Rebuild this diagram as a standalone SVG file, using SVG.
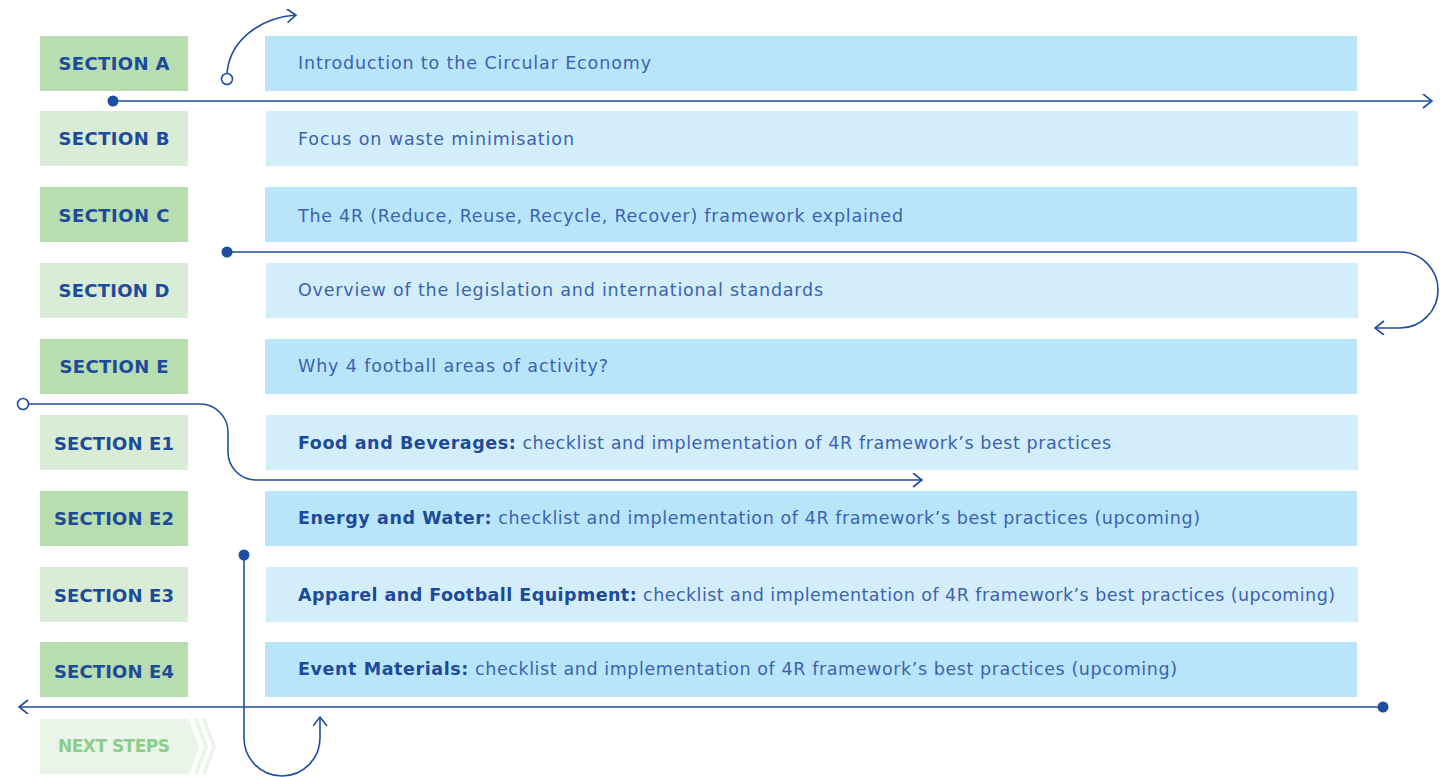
<svg xmlns="http://www.w3.org/2000/svg" width="1445" height="777" viewBox="0 0 1445 777">
<style>
.lg{fill:#b8ddb0}.ll{fill:#d9ecd6}.bd{fill:#b9e5fa}.bl{fill:#d3eefa}
.sl{font-family:"DejaVu Sans",sans-serif;font-weight:bold;font-size:18px;fill:#1d4a9b;text-anchor:middle}
.tx{font-family:"DejaVu Sans",sans-serif;font-size:17.5px;fill:#3b63b1}
.b{font-weight:bold;fill:#1d4a9b}
.cn{fill:none;stroke:#1f4e9e;stroke-width:1.6}
.dot{fill:#1f4e9e}
.od{fill:#fff;stroke:#1f4e9e;stroke-width:1.6}
</style>
<defs>
<marker id="ah" markerUnits="userSpaceOnUse" markerWidth="20" markerHeight="20" refX="10" refY="7" orient="auto" viewBox="0 0 20 20">
<path d="M1,0 L10,7 L1,14" fill="none" stroke="#1f4e9e" stroke-width="1.6"/>
</marker>
</defs>
<rect width="1445" height="777" fill="#fff"/>
<g id="secA"><rect class="lg" x="40" y="36" width="148" height="55"/><rect class="bd" x="265" y="36" width="1092" height="55"/>
<text class="sl" x="114" y="70" textLength="111">SECTION A</text>
<text class="tx" x="298" y="69" textLength="353">Introduction to the Circular Economy</text></g>
<g id="secB"><rect class="ll" x="40" y="111" width="148" height="55"/><rect class="bl" x="266" y="111" width="1092" height="55"/>
<text class="sl" x="114" y="145" textLength="111">SECTION B</text>
<text class="tx" x="298" y="145" textLength="276">Focus on waste minimisation</text></g>
<g id="secC"><rect class="lg" x="40" y="187" width="148" height="55"/><rect class="bd" x="265" y="187" width="1092" height="55"/>
<text class="sl" x="114" y="222" textLength="111">SECTION C</text>
<text class="tx" x="298" y="222" textLength="605">The 4R (Reduce, Reuse, Recycle, Recover) framework explained</text></g>
<g id="secD"><rect class="ll" x="40" y="263" width="148" height="55"/><rect class="bl" x="266" y="263" width="1092" height="55"/>
<text class="sl" x="114" y="297" textLength="111">SECTION D</text>
<text class="tx" x="298" y="296" textLength="525">Overview of the legislation and international standards</text></g>
<g id="secE"><rect class="lg" x="40" y="339" width="148" height="55"/><rect class="bd" x="265" y="339" width="1092" height="55"/>
<text class="sl" x="114" y="373" textLength="109">SECTION E</text>
<text class="tx" x="298" y="372" textLength="310">Why 4 football areas of activity?</text></g>
<g id="secE1"><rect class="ll" x="40" y="415" width="148" height="55"/><rect class="bl" x="266" y="415" width="1092" height="55"/>
<text class="sl" x="114" y="450" textLength="120">SECTION E1</text>
<text class="tx" x="298" y="449" textLength="813"><tspan class="b">Food and Beverages:</tspan> checklist and implementation of 4R framework’s best practices</text></g>
<g id="secE2"><rect class="lg" x="40" y="491" width="148" height="55"/><rect class="bd" x="265" y="491" width="1092" height="55"/>
<text class="sl" x="114" y="525" textLength="120">SECTION E2</text>
<text class="tx" x="298" y="524" textLength="902"><tspan class="b">Energy and Water:</tspan> checklist and implementation of 4R framework’s best practices (upcoming)</text></g>
<g id="secE3"><rect class="ll" x="40" y="567" width="148" height="55"/><rect class="bl" x="266" y="567" width="1092" height="55"/>
<text class="sl" x="114" y="602" textLength="120">SECTION E3</text>
<text class="tx" x="298" y="601" textLength="1037"><tspan class="b">Apparel and Football  Equipment:</tspan> checklist and implementation of 4R framework’s best practices (upcoming)</text></g>
<g id="secE4"><rect class="lg" x="40" y="642" width="148" height="55"/><rect class="bd" x="265" y="642" width="1092" height="55"/>
<text class="sl" x="114" y="678" textLength="120">SECTION E4</text>
<text class="tx" x="298" y="675" textLength="879"><tspan class="b">Event Materials:</tspan> checklist and implementation of 4R framework’s best practices (upcoming)</text></g>
<g id="next">
<polygon points="40,719 189,719 199,747 189,774 40,774" fill="#eaf4e8"/>
<polygon points="194,719 198,719 208,747 198,774 194,774 204,747" fill="#eaf4e8"/>
<polygon points="202,719 206,719 216,747 206,774 202,774 212,747" fill="#eaf4e8"/>
<text class="sl" x="114" y="752" textLength="112" style="fill:#8dcc8a;font-size:17px">NEXT STEPS</text>
</g>
<g id="connectors">
<path class="cn" d="M227,74 C229,42 258,18 296,15" marker-end="url(#ah)"/>
<circle class="od" cx="227" cy="79" r="5.5"/>
<path class="cn" d="M113,101 H1432" marker-end="url(#ah)"/>
<circle class="dot" cx="113" cy="101" r="5.5"/>
<path class="cn" d="M227,252 H1400 A38,38 0 0 1 1438,290 A38,38 0 0 1 1400,328 H1375" marker-end="url(#ah)"/>
<circle class="dot" cx="227" cy="252" r="5.5"/>
<path class="cn" d="M29,404 H200 A28,28 0 0 1 228,432 V452 A28,28 0 0 0 256,480 H922" marker-end="url(#ah)"/>
<circle class="od" cx="23" cy="404" r="5.5"/>
<path class="cn" d="M244,555 V738 A38,38 0 0 0 320,738 V717" marker-end="url(#ah)"/>
<circle class="dot" cx="244" cy="555" r="5.5"/>
<path class="cn" d="M1383,707 H19" marker-end="url(#ah)"/>
<circle class="dot" cx="1383" cy="707" r="5.5"/>
</g>
</svg>
